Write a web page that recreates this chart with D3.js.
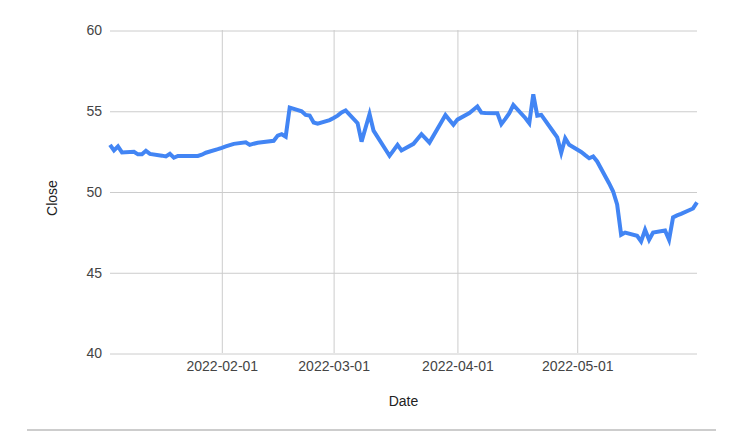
<!DOCTYPE html>
<html>
<head>
<meta charset="utf-8">
<script src="https://cdn.jsdelivr.net/npm/d3@7"></script>
<style>
  body { margin: 0; background: #fff; }
  text { font-family: Arial, "Liberation Sans", sans-serif; }
</style>
</head>
<body>
<div id="chart"></div>
<script>
// Trading dates and closing prices
var dates = [
  "2022-01-04","2022-01-05","2022-01-06","2022-01-07","2022-01-10","2022-01-11","2022-01-12","2022-01-13","2022-01-14",
  "2022-01-17","2022-01-18","2022-01-19","2022-01-20","2022-01-21","2022-01-24","2022-01-25","2022-01-26","2022-01-27",
  "2022-01-28","2022-01-31","2022-02-01","2022-02-02","2022-02-03","2022-02-04","2022-02-07","2022-02-08","2022-02-09",
  "2022-02-10","2022-02-11","2022-02-14","2022-02-15","2022-02-16","2022-02-17","2022-02-18","2022-02-21","2022-02-22",
  "2022-02-23","2022-02-24","2022-02-25","2022-02-28","2022-03-01","2022-03-02","2022-03-03","2022-03-04","2022-03-07",
  "2022-03-08","2022-03-09","2022-03-10","2022-03-11","2022-03-14","2022-03-15","2022-03-16","2022-03-17","2022-03-18",
  "2022-03-21","2022-03-22","2022-03-23","2022-03-24","2022-03-25","2022-03-28","2022-03-29","2022-03-30","2022-03-31",
  "2022-04-01","2022-04-04","2022-04-05","2022-04-06","2022-04-07","2022-04-08","2022-04-11","2022-04-12","2022-04-13",
  "2022-04-14","2022-04-15","2022-04-18","2022-04-19","2022-04-20","2022-04-21","2022-04-22","2022-04-25","2022-04-26",
  "2022-04-27","2022-04-28","2022-04-29","2022-05-02","2022-05-03","2022-05-04","2022-05-05","2022-05-06","2022-05-09",
  "2022-05-10","2022-05-11","2022-05-12","2022-05-13","2022-05-16","2022-05-17","2022-05-18","2022-05-19","2022-05-20",
  "2022-05-23","2022-05-24","2022-05-25","2022-05-26","2022-05-27","2022-05-30","2022-05-31"
];
var closes = [
  52.89, 52.54, 52.79, 52.42, 52.46, 52.30, 52.30, 52.52, 52.33,
  52.22, 52.17, 52.33, 52.09, 52.20, 52.20, 52.20, 52.20, 52.28,
  52.40, 52.62, 52.70, 52.79, 52.87, 52.95, 53.05, 52.89, 52.96,
  53.02, 53.05, 53.14, 53.46, 53.55, 53.40, 55.20, 54.97, 54.74,
  54.70, 54.27, 54.20, 54.42, 54.55, 54.70, 54.90, 55.02, 54.23,
  53.09, 53.95, 54.80, 53.77, 52.60, 52.21, 52.55, 52.89, 52.54,
  52.95, 53.25, 53.55, 53.29, 53.03, 54.31, 54.74, 54.43, 54.13,
  54.45, 54.86, 55.06, 55.26, 54.88, 54.86, 54.85, 54.17, 54.50,
  54.85, 55.36, 54.55, 54.23, 56.02, 54.70, 54.74, 53.70, 53.35,
  52.40, 53.30, 52.89, 52.45, 52.25, 52.06, 52.17, 51.86, 50.50,
  50.00, 49.20, 47.32, 47.46, 47.26, 46.91, 47.63, 47.01, 47.46,
  47.59, 47.01, 48.40, 48.52, 48.62, 48.95, 49.32
];
var yTicks = [40, 45, 50, 55, 60];
var xTicks = ["2022-02-01", "2022-03-01", "2022-04-01", "2022-05-01"];

var width = 740, height = 434;
var margin = { top: 30, left: 110, right: 43, bottom: 81 };

var parse = d3.timeParse("%Y-%m-%d");
var data = dates.map(function(d, i) {
    return { date: parse(d), close: closes[i] };
});

var svg = d3.select("#chart")
    .append("svg")
    .attr("width", width)
    .attr("height", height);

var x = d3.scaleTime()
    .domain(d3.extent(data, function(d) { return d.date; }))
    .range([margin.left, width - margin.right]);

var y = d3.scaleLinear()
    .domain([40, 60])
    .range([height - margin.bottom, margin.top]);

// Horizontal gridlines + y labels
var yAxis = svg.append("g")
    .attr("transform", "translate(" + margin.left + ",0)")
    .call(d3.axisLeft(y).tickValues(yTicks).tickSize(-(width - margin.left - margin.right)).tickPadding(8));
yAxis.select(".domain").remove();
yAxis.selectAll("line").attr("stroke", "#cccccc").attr("transform", "translate(0,0.5)");
yAxis.selectAll("text")
    .attr("fill", "#444")
    .style("font-size", "14px")
    .attr("dy", "0.35em");

// Vertical gridlines + x labels
var xAxis = svg.append("g")
    .attr("transform", "translate(0," + (height - margin.bottom) + ")")
    .call(d3.axisBottom(x)
        .tickValues(xTicks.map(parse))
        .tickFormat(d3.timeFormat("%Y-%m-%d"))
        .tickSize(-(height - margin.top - margin.bottom))
        .tickPadding(8));
xAxis.select(".domain").remove();
xAxis.selectAll("line").attr("stroke", "#cccccc");
xAxis.selectAll("text")
    .attr("fill", "#444")
    .style("font-size", "14px");

// Price line
var line = d3.line()
    .x(function(d) { return x(d.date); })
    .y(function(d) { return y(d.close); });

svg.append("path")
    .datum(data)
    .attr("fill", "none")
    .attr("stroke", "#4285f4")
    .attr("stroke-width", 4)
    .attr("d", line);

// Axis titles
svg.append("text")
    .attr("x", (margin.left + width - margin.right) / 2)
    .attr("y", 406)
    .attr("text-anchor", "middle")
    .attr("fill", "#222")
    .style("font-size", "14px")
    .text("Date");

svg.append("text")
    .attr("transform", "translate(57,198) rotate(-90)")
    .attr("text-anchor", "middle")
    .attr("fill", "#222")
    .style("font-size", "14px")
    .text("Close");

// Rule under the chart
svg.append("line")
    .attr("x1", 27).attr("x2", 716)
    .attr("y1", 430).attr("y2", 430)
    .attr("stroke", "#bdbdbd")
    .attr("stroke-width", 1.5);
</script>
</body>
</html>
